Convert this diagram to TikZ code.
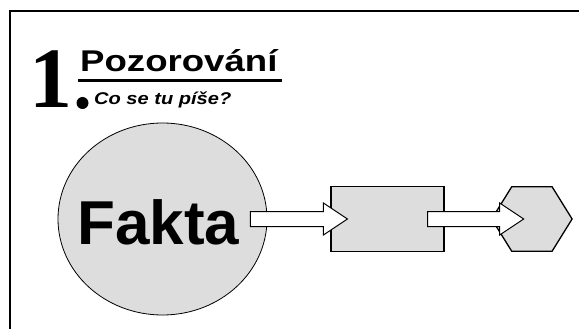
\documentclass[tikz,border=0pt]{standalone}
\usepackage{fontspec}
\setmainfont{Liberation Sans}
\newfontfamily\patkove{Liberation Serif}
\usetikzlibrary{shapes,positioning,calc}
\definecolor{svetleseda}{RGB}{221,221,221}

% plna blokova sipka od bodu #1 ke hrotu #2
\newcommand{\sipka}[2]{%
    \draw[sipkastyl] let \p1=(#1), \p2=(#2) in
        (\x1,\y1+7.5pt) -- (\x2-24pt,\y1+7.5pt) -- (\x2-24pt,\y1+16pt) -- (\x2,\y1)
        -- (\x2-24pt,\y1-16pt) -- (\x2-24pt,\y1-7.5pt) -- (\x1,\y1-7.5pt) -- cycle;}

\begin{document}
\begin{tikzpicture}[x=1pt, y=1pt,
    blob/.style ={
        ellipse,
        draw=black,
        line width=0.8pt,
        fill=svetleseda,
        minimum width=209pt,
        minimum height=192pt,
        inner sep=0pt
    },
    krabice/.style ={
        rectangle,
        draw=black,
        line width=1.3pt,
        fill=svetleseda,
        minimum width=113pt,
        minimum height=65pt
    },
    hexobrys/.style ={
        rectangle,
        minimum width=80pt,
        minimum height=64pt,
        inner sep=0pt
    },
    hexstyl/.style ={
        draw=black,
        line width=1.3pt,
        fill=svetleseda,
        line join=miter
    },
    sipkastyl/.style ={
        draw=black,
        fill=white,
        line width=1pt,
        line join=miter
    },
    popis/.style ={
        anchor=base west,
        inner sep=0pt
    }
    ]
    \useasboundingbox (0,0) rectangle (579,-329);
    \draw[line width=2pt] (10,-329) -- (10,-11) -- (579,-11);

    % nadpis
    \node[popis, font=\patkove\bfseries\fontsize{86}{86}\selectfont] (cislo) at (29.5,-108) {1};
    \node[popis, font=\bfseries\fontsize{30}{30}\selectfont] (nadpis) at (80,-72)
        {\scalebox{1.22}[1]{Pozorování}};
    \draw[line width=2.6pt] ($(nadpis.base west)+(-2,-8.5)$) -- ($(nadpis.base east)+(4,-8.5)$);
    \node[circle, fill=black, inner sep=0pt, minimum size=12pt] (tecka) at (82.5,-103) {};
    \node[popis, font=\bfseries\itshape\fontsize{17}{17}\selectfont] (otazka) at (94,-105)
        {\scalebox{1.18}[1]{Co se tu píše?}};

    % schema
    \node[blob] (fakta) at (162.5,-219) {};
    \node[font=\bfseries\fontsize{62}{62}\selectfont, inner sep=0pt] (faktatext) at (158.5,-222.5) {Fakta};
    \node[krabice, right=63pt of fakta] (krabice) {};
    \node[hexobrys, right=47pt of krabice] (vysledek) {};
    \draw[hexstyl] (vysledek.west) -- ($(vysledek.north west)+(20,0)$)
        -- ($(vysledek.north east)+(-20,0)$) -- (vysledek.east)
        -- ($(vysledek.south east)+(-20,0)$) -- ($(vysledek.south west)+(20,0)$) -- cycle;

    \coordinate (s1) at ($(fakta.east)+(-17,0)$);
    \coordinate (h1) at ($(krabice.west)+(17,0)$);
    \coordinate (s2) at ($(krabice.east)+(-17,0)$);
    \coordinate (h2) at ($(vysledek.west)+(32,0)$);
    \foreach \z/\k in {s1/h1, s2/h2}
        \sipka{\z}{\k};
\end{tikzpicture}
\end{document}
